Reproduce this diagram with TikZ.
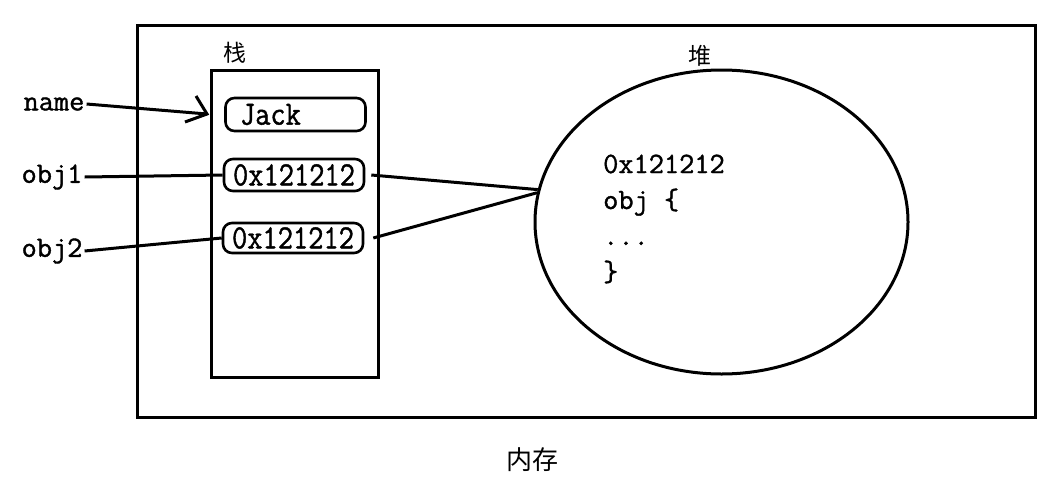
\documentclass[tikz,border=0pt]{standalone}
\usepackage{fontspec}
\usetikzlibrary{shapes.geometric}
\newfontfamily\cjk{Noto Sans CJK SC}
\newfontfamily\codefont[FakeBold=1.2]{Latin Modern Mono}
\newfontfamily\cellfont[FakeStretch=0.87,FakeBold=1.2]{Latin Modern Mono}

\begin{document}
\begin{tikzpicture}[x=1pt,y=-1pt,
  frame/.style={draw, line width=3pt, inner sep=0pt},
  conn/.style={draw, line width=3pt},
  cell/.style={draw, line width=2.6pt, rounded corners=9pt, inner sep=0pt,
    minimum width=140pt, font=\cellfont\fontsize{34}{34}\selectfont},
  code/.style={font=\codefont\fontsize{29.5}{29.5}\selectfont, inner sep=2pt},
  cjklabel/.style={font=\cjk\fontsize{23}{23}\selectfont, inner sep=0pt}]
\useasboundingbox (0,0) rectangle (1046,477);
\fill[white] (0,0) rectangle (1046,477);

% memory, stack and heap areas
\node[frame, minimum width=898pt, minimum height=391.5pt] (memory) at (586.5,221.25) {};
\node[frame, minimum width=167pt, minimum height=307pt] (stack) at (294.5,223.5) {};
\node[draw, ellipse, line width=3pt, inner sep=0pt,
      minimum width=373pt, minimum height=304pt] (heap) at (721.5,222) {};

% area titles
\node[cjklabel] (stacklbl) at (235,53) {栈};
\node[cjklabel] (heaplbl) at (700,56) {堆};
\node[cjklabel, font=\cjk\fontsize{26}{26}\selectfont] (memlbl) at (532,460) {内存};

% stack cells
\node[cell, minimum height=33pt, text width=111pt, inner xsep=14pt, align=left]
  (b0) at (295.5,114.5) {Jack};
\node[cell, minimum height=32pt] (b1) at (294,175) {0x121212};
\node[cell, minimum height=30pt] (b2) at (293,238) {0x121212};

% variable names
\node[code] (name) at (54,104) {name};
\node[code] (obj1) at (52,177) {obj1};
\node[code] (obj2) at (52,251) {obj2};

% object stored on the heap
\node[code, anchor=base west] (h1) at (601,173) {0x121212};
\node[code, anchor=base west] (h2) at (601,209) {obj \{};
\node[code, anchor=base west] (h3) at (601,245) {...};
\node[code, anchor=base west] (h4) at (601,281) {\}};

% references
\coordinate (tip) at (207,114);
\draw[conn] (name.east) -- (tip);
\draw[conn] ([shift={(-11,-18)}]tip) -- (tip) -- ([shift={(-22,8)}]tip);
\draw[conn] (obj1.east) -- (b1.west);
\draw[conn] (obj2.east) -- (b2.west);
\draw[conn] ([xshift=6pt]b1.east) -- (heap.170);
\draw[conn] ([xshift=9pt]b2.east) -- (heap.171);
\end{tikzpicture}
\end{document}
